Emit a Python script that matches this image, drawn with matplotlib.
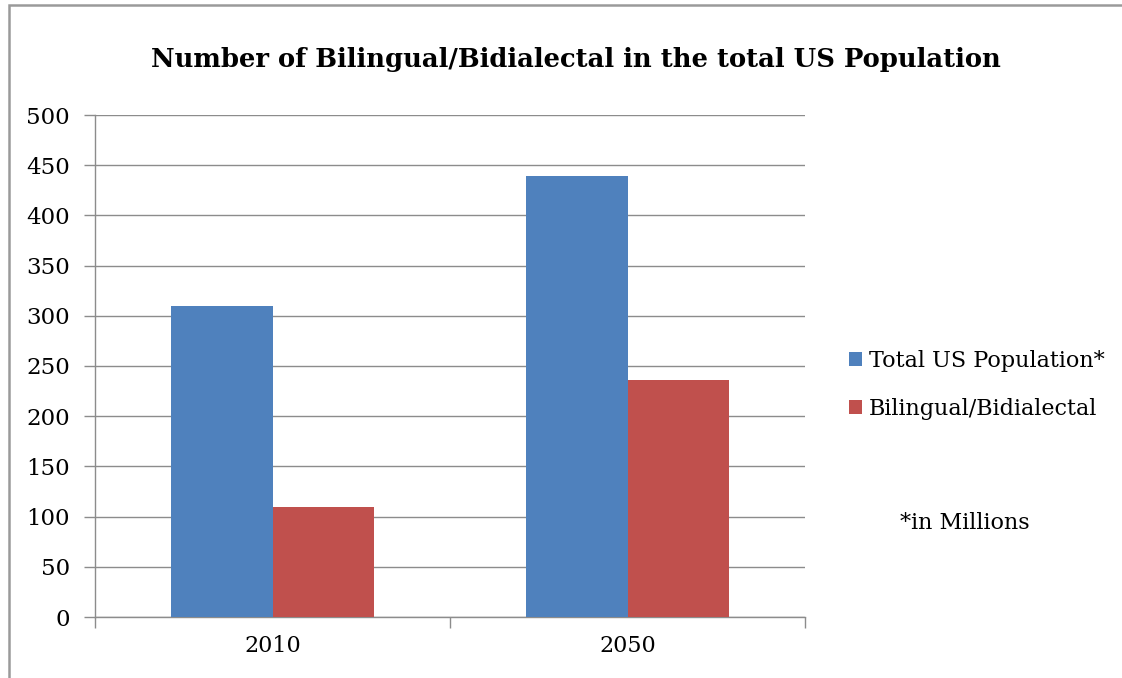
import matplotlib.pyplot as plt
from matplotlib.patches import Rectangle
import numpy as np

years = ['2010', '2050']
total_pop = [310, 439]
bilingual = [110, 236]
series_names = ['Total US Population*', 'Bilingual/Bidialectal']
colors = ['#4F81BD', '#C0504D']

plt.rcParams['font.family'] = ['DejaVu Serif']

fig = plt.figure(figsize=(11.22, 6.78), dpi=100)
ax = fig.add_axes([95/1122, 1 - 617/678, 710/1122, 502/678])

x = np.arange(len(years))
w = 1 / 3.5  # gap width 150%
ax.bar(x - w/2, total_pop, w, color=colors[0], label=series_names[0], zorder=3)
ax.bar(x + w/2, bilingual, w, color=colors[1], label=series_names[1], zorder=3)

ax.set_xlim(-0.5, len(years) - 0.5)
ax.set_ylim(0, 500)
ax.set_yticks(range(0, 501, 50))
ax.yaxis.grid(True, color='#8c8c8c', lw=1.0, zorder=0)

ax.set_xticks(x)
ax.set_xticklabels(years, fontsize=16)
ax.set_xticks([-0.5, 0.5, 1.5], minor=True)
ax.tick_params(axis='x', which='major', length=0, pad=13)
ax.tick_params(axis='x', which='minor', length=8, width=1.0, color='#8c8c8c')
ax.tick_params(axis='y', length=8, width=1.0, color='#8c8c8c', labelsize=16.5, pad=10)

for side in ['top', 'right']:
    ax.spines[side].set_visible(False)
for side in ['left', 'bottom']:
    ax.spines[side].set_color('#8c8c8c')
    ax.spines[side].set_linewidth(1.0)

fig.text(576/1122, 1 - 60/678, 'Number of Bilingual/Bidialectal in the total US Population',
         ha='center', va='center', fontsize=18.6, fontweight='bold')

fig.legend(loc='center left', bbox_to_anchor=(838/1122, 1 - 385/678), frameon=False,
           fontsize=16, handlelength=0.6, handleheight=0.6, handletextpad=0.3,
           labelspacing=1.15, borderpad=0)

fig.text(965/1122, 1 - 523/678, '*in Millions', ha='center', va='center', fontsize=16)

# chart frame
fig.patches.append(Rectangle((9/1122, -0.1), 1.2, 1 - 5/678 + 0.1,
                             transform=fig.transFigure, fill=False,
                             edgecolor='#9a9a9a', lw=1.8))

fig.savefig('out.png', dpi=100)
